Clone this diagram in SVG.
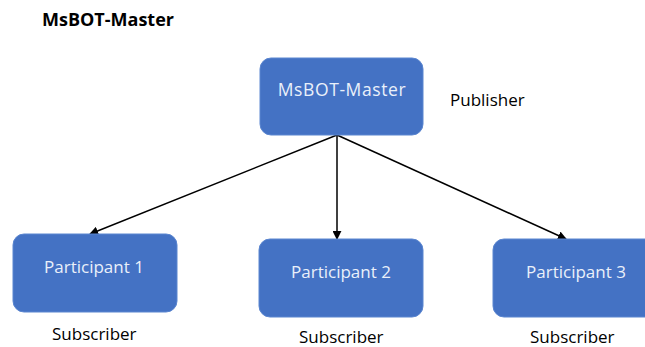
<svg xmlns="http://www.w3.org/2000/svg" width="645" height="347" viewBox="0 0 645 347">
<defs>
<marker id="ah" viewBox="0 0 10 10" refX="9" refY="5" markerWidth="9" markerHeight="9" markerUnits="userSpaceOnUse" orient="auto">
<path d="M0,0 L10,5 L0,10 z" fill="#000"/>
</marker>
<style>
.box{fill:#4472C4;stroke:#5B86D0;stroke-width:1}
.in{font-family:"Open Sans","Noto Sans",sans-serif;font-size:17px;fill:#EAF0FA;text-anchor:middle}
.lbl{font-family:"Open Sans","Noto Sans",sans-serif;font-size:17px;fill:#000}
.ln{stroke:#000;stroke-width:1.5;fill:none;marker-end:url(#ah)}
</style>
</defs>
<rect width="645" height="347" fill="#fff"/>
<text x="42" y="26" font-family="'Open Sans','Noto Sans',sans-serif" font-size="18" font-weight="bold" fill="#000">MsBOT-Master</text>
<g id="connectors">
<line class="ln" x1="337" y1="135" x2="90" y2="234"/>
<line class="ln" x1="337" y1="135" x2="337" y2="239"/>
<line class="ln" x1="337" y1="135" x2="566" y2="239"/>
</g>
<g id="master">
<rect class="box" x="260" y="58" width="163" height="77" rx="11"/>
<text class="in" x="342" y="96" style="font-size:17.5px;letter-spacing:0.6px">MsBOT-Master</text>
<text class="lbl" x="450" y="106">Publisher</text>
</g>
<g id="p1">
<rect class="box" x="13" y="234" width="164" height="78" rx="11"/>
<text class="in" x="94" y="273">Participant 1</text>
<text class="lbl" x="52" y="340">Subscriber</text>
</g>
<g id="p2">
<rect class="box" x="259" y="239" width="164" height="78" rx="11"/>
<text class="in" x="341" y="278">Participant 2</text>
<text class="lbl" x="299" y="343">Subscriber</text>
</g>
<g id="p3">
<rect class="box" x="493" y="239" width="164" height="78" rx="11"/>
<text class="in" x="576" y="278">Participant 3</text>
<text class="lbl" x="530" y="343">Subscriber</text>
</g>
</svg>
